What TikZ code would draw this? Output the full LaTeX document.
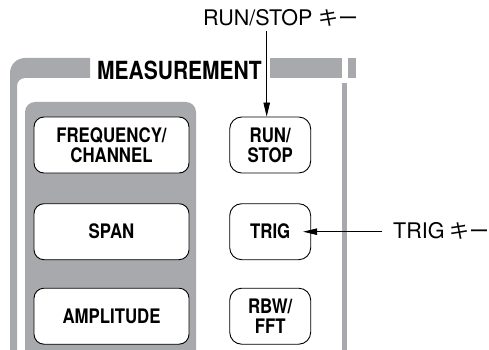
\documentclass[tikz,border=0pt]{standalone}
\usepackage{fontspec}
\setmainfont{TeX Gyre Heros}
\newfontfamily\keyfont[FakeStretch=0.84]{TeX Gyre Heros}
\newfontfamily\cjk{Noto Sans CJK JP}
\usetikzlibrary{arrows.meta}
\definecolor{panelgray}{RGB}{167,169,172}
\tikzset{
  keybox/.style={draw=black, line width=0.9pt, fill=white, rounded corners=10pt,
    minimum height=56pt, inner sep=0pt, align=center,
    font=\keyfont\bfseries\fontsize{20}{20}\selectfont},
  keyL/.style={keybox, minimum width=155pt},
  keyR/.style={keybox, minimum width=81pt, rounded corners=12pt},
  callout/.style={inner sep=0pt, font=\fontsize{21.5}{24}\selectfont},
  pointer/.style={line width=0.8pt, -{Triangle[length=14pt,width=6.5pt]}}
}
\newcommand{\kana}[1]{{\cjk\fontsize{20}{24}\selectfont #1}}
\begin{document}
\begin{tikzpicture}[x=1pt,y=-1pt]
\useasboundingbox (0,0) rectangle (489,350);
% outer frame
\fill[panelgray] (10,350) -- (10,73) arc[start angle=180,end angle=270,radius=15]
  -- (90,58) -- (90,78) -- (25,78) arc[start angle=270,end angle=180,radius=8]
  -- (17,350) -- cycle;
\fill[panelgray] (270,58) rectangle (341.7,78);
\fill[panelgray] (347.7,58) rectangle (356,78);
\fill[panelgray] (341.7,83) rectangle (347,350);
% inner panel
\fill[panelgray] (25,350) -- (25,112) arc[start angle=180,end angle=270,radius=10]
  -- (186,102) arc[start angle=270,end angle=360,radius=10] -- (196,350) -- cycle;
% title
\node[anchor=base west, inner sep=0pt,
  font=\keyfont\bfseries\fontsize{25}{26}\selectfont] (title) at (97,80) {MEASUREMENT};
% keys
\node[keyL] (freq) at (111.5,145) {FREQUENCY/\\CHANNEL};
\node[keyL] (span) at (111.5,231.7) {SPAN};
\node[keyL] (ampl) at (111.5,316.2) {AMPLITUDE};
\node[keyR] (run) at (270.2,145) {RUN/\\STOP};
\node[keyR] (trig) at (270.2,231.7) {TRIG};
\node[keyR] (rbw) at (270.2,316.2) {RBW/\\FFT};
% callouts
\node[callout, anchor=base west] (runlbl) at (203,26) {RUN/STOP\hspace{0.3em}\kana{キー}};
\node[callout, anchor=base west] (triglbl) at (393,238.3) {TRIG\hspace{0.25em}\kana{キー}};
\coordinate (ax) at (266.7,0);
\draw[pointer] ([yshift=-4pt]runlbl.south -| ax) -- (ax |- run.north);
\draw[pointer] ([xshift=-11pt]triglbl.west |- trig.east) -- ([xshift=-8pt]trig.east);
\end{tikzpicture}
\end{document}
